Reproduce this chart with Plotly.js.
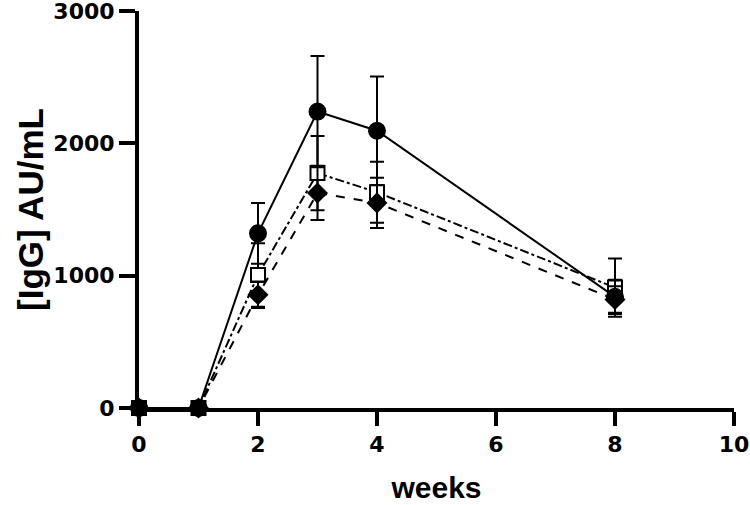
<!DOCTYPE html>
<html>
<head>
<meta charset="utf-8">
<script src="https://cdn.plot.ly/plotly-3.0.1.min.js"></script>
<style>html,body{margin:0;padding:0;background:#fff;}#chart{width:750px;height:505px;}</style>
</head>
<body>
<div id="chart"></div>
<script>
var weeks = [0, 1, 2, 3, 4, 8];

var circleValues = [0, 0, 1320, 2240, 2095, 840];
var circleErrors = [0, 0, 230, 420, 410, 130];

var squareValues = [0, 0, 1005, 1775, 1630, 910];
var squareErrors = [0, 0, 240, 280, 230, 220];

var diamondValues = [0, 0, 855, 1625, 1550, 820];
var diamondErrors = [0, 0, 100, 205, 190, 100];

var xTicks = [0, 2, 4, 6, 8, 10];
var yTicks = [0, 1000, 2000, 3000];

function series(y, err, symbol, dash, fill, size) {
  return {
    x: weeks, y: y, type: 'scatter', mode: 'lines+markers',
    cliponaxis: false,
    line: {color: '#000', width: 2, dash: dash},
    marker: {symbol: symbol, size: size, color: fill, line: {color: '#000', width: 2}},
    error_y: {type: 'data', array: err, visible: true, color: '#000', thickness: 2, width: 7},
    showlegend: false
  };
}

var data = [
  series(squareValues, squareErrors, 'square', 'dashdot', '#fff', 14),
  series(diamondValues, diamondErrors, 'diamond', 'dash', '#000', 14),
  series(circleValues, circleErrors, 'circle', 'solid', '#000', 16)
];

var fam = 'Liberation Sans, Arial, sans-serif';
var tickFont = {family: 'DejaVu Sans, Liberation Sans, sans-serif', size: 22, color: '#000', weight: 'bold'};

var layout = {
  width: 750, height: 505,
  margin: {l: 139, r: 16, t: 11, b: 97},
  paper_bgcolor: '#fff', plot_bgcolor: '#fff',
  xaxis: {
    range: [0, 10], tickvals: xTicks, ticktext: xTicks.map(String),
    showgrid: false, zeroline: false, showline: true, linecolor: '#000', linewidth: 4,
    ticks: 'outside', ticklen: 14, tickwidth: 4, tickcolor: '#000',
    tickfont: tickFont, ticklabeloverflow: 'allow',
    title: {text: 'weeks', font: {family: fam, size: 30, color: '#000', weight: 'bold'}, standoff: 22},
    automargin: false
  },
  yaxis: {
    range: [0, 3000], tickvals: yTicks, ticktext: yTicks.map(String),
    showgrid: false, zeroline: false, showline: true, linecolor: '#000', linewidth: 4,
    ticks: 'outside', ticklen: 16, tickwidth: 4, tickcolor: '#000',
    tickfont: tickFont, ticklabeloverflow: 'allow',
    title: {text: '[IgG] AU/mL', font: {family: fam, size: 35, color: '#000', weight: 'bold'}, standoff: 0},
    automargin: false
  }
};

Plotly.newPlot('chart', data, layout, {displayModeBar: false, staticPlot: true});
</script>
</body>
</html>
